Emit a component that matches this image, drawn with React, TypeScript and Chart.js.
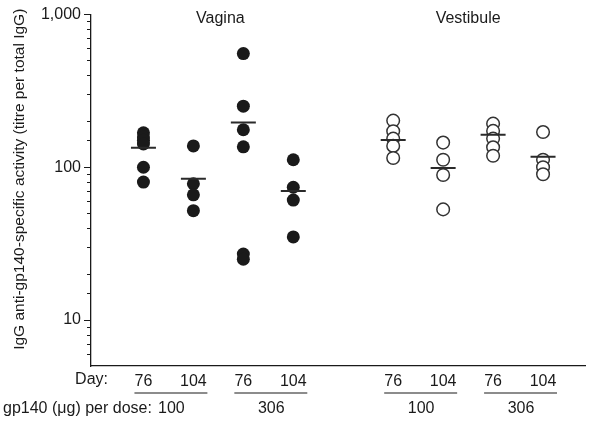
import React, { useEffect, useRef } from 'react';
import { Chart, registerables } from 'chart.js';

Chart.register(...registerables);

// ---- data ----
const dayLabels = ['76', '104', '76', '104', '76', '104', '76', '104'];
const columnSlots = [0, 1, 2, 3, 5, 6, 7, 8];
const doseLabels = ['100', '306', '100', '306'];
const siteLabels = ['Vagina', 'Vestibule'];
const yTickLabels: Record<number, string> = { 10: '10', 100: '100', 1000: '1,000' };

const vagina76d100 = [168, 158, 150, 142, 100, 80];
const vagina104d100 = [138, 78, 66, 52];
const vagina76d306 = [555, 251, 176, 136, 27, 25];
const vagina104d306 = [112, 74, 61, 35];
const vestibule76d100 = [202, 172, 154, 138, 115];
const vestibule104d100 = [145, 112, 89, 53];
const vestibule76d306 = [193, 173, 154, 135, 119];
const vestibule104d306 = [170, 112, 100, 90];

const columnMeans = [134, 84, 196, 70, 151, 99, 163, 117];

const vaginaColumns = [vagina76d100, vagina104d100, vagina76d306, vagina104d306];
const vestibuleColumns = [vestibule76d100, vestibule104d100, vestibule76d306, vestibule104d306];

const FONT = '"Liberation Sans", Arial, sans-serif';
const INK = '#1a1a1a';

const toPoints = (cols: number[][], slots: number[]) =>
  cols.flatMap((vals, i) => vals.map((v) => ({ x: slots[i], y: v })));

const isMajor = (v: number) => yTickLabels[v] !== undefined;

const annotations = {
  id: 'annotations',
  afterDraw(chart: any) {
    const { ctx, scales } = chart;
    const xs = scales.x;
    const ys = scales.y;
    const area = chart.chartArea;
    ctx.save();
    ctx.fillStyle = INK;
    ctx.strokeStyle = INK;

    // minor ticks on the log axis (shorter than the major ones)
    ctx.lineWidth = 1;
    ys.ticks.forEach((t: any) => {
      if (isMajor(t.value) || t.value <= ys.min) return;
      const py = Math.round(ys.getPixelForValue(t.value)) + 0.5;
      ctx.beginPath();
      ctx.moveTo(area.left - 4, py);
      ctx.lineTo(area.left, py);
      ctx.stroke();
    });

    ctx.font = `16px ${FONT}`;
    ctx.textBaseline = 'middle';

    // site titles
    ctx.textAlign = 'center';
    ctx.fillText(siteLabels[0], xs.getPixelForValue((columnSlots[0] + columnSlots[3]) / 2) + 2, 19);
    ctx.fillText(siteLabels[1], xs.getPixelForValue((columnSlots[4] + columnSlots[7]) / 2), 19);

    // Day: label
    const dayY = area.bottom + 14;
    ctx.textAlign = 'right';
    ctx.fillText('Day:', 108, dayY);

    // underlines and dose labels
    const lineY = area.bottom + 27;
    const doseY = area.bottom + 43;
    ctx.lineWidth = 1.2;
    for (let p = 0; p < 4; p++) {
      const a = xs.getPixelForValue(columnSlots[p * 2]);
      const b = xs.getPixelForValue(columnSlots[p * 2 + 1]);
      ctx.beginPath();
      ctx.moveTo(a - 9, lineY);
      ctx.lineTo(b + 14, lineY);
      ctx.stroke();
      ctx.textAlign = 'center';
      ctx.fillText(doseLabels[p], (a + b) / 2 + 3, doseY);
    }
    ctx.textAlign = 'left';
    ctx.fillText('gp140 (\u03bcg) per dose:', 3, doseY);

    // y-axis title
    ctx.translate(20, (area.top + area.bottom) / 2 - 11);
    ctx.rotate(-Math.PI / 2);
    ctx.textAlign = 'center';
    ctx.font = `15.5px ${FONT}`;
    ctx.fillText('IgG anti-gp140-specific activity (titre per total IgG)', 0, 0);
    ctx.restore();
  },
};

export default function App() {
  const canvasRef = useRef<HTMLCanvasElement | null>(null);

  useEffect(() => {
    if (!canvasRef.current) return;
    const chart = new Chart(canvasRef.current, {
      type: 'scatter',
      data: {
        datasets: [
          {
            label: 'Mean',
            data: columnMeans.map((m, i) => ({ x: columnSlots[i], y: m })),
            pointStyle: 'line',
            pointRadius: 12.5,
            borderColor: '#2a2a2a',
            backgroundColor: '#2a2a2a',
            borderWidth: 2,
          },
          {
            label: 'Vagina',
            data: toPoints(vaginaColumns, columnSlots.slice(0, 4)),
            pointStyle: 'circle',
            pointRadius: 6.5,
            backgroundColor: INK,
            borderColor: INK,
            borderWidth: 0,
          },
          {
            label: 'Vestibule',
            data: toPoints(vestibuleColumns, columnSlots.slice(4)),
            pointStyle: 'circle',
            pointRadius: 6.3,
            backgroundColor: '#ffffff',
            borderColor: '#333333',
            borderWidth: 1.5,
          },
        ],
      },
      options: {
        animation: false,
        responsive: false,
        events: [],
        layout: { padding: { top: 14, right: 9, left: 0, bottom: 0 } },
        plugins: { legend: { display: false }, tooltip: { enabled: false } },
        scales: {
          x: {
            type: 'linear',
            min: -1.05,
            max: 8.85,
            afterBuildTicks: (scale: any) => {
              scale.ticks = columnSlots.map((v) => ({ value: v }));
            },
            afterFit: (scale: any) => {
              scale.height = 59;
            },
            grid: { display: false, drawTicks: false },
            border: { display: true, color: INK, width: 1.3 },
            ticks: {
              autoSkip: false,
              maxRotation: 0,
              padding: 6,
              color: INK,
              font: { family: FONT, size: 16 },
              callback: (v: any) => {
                const i = columnSlots.indexOf(Number(v));
                return i >= 0 ? dayLabels[i] : '';
              },
            },
          },
          y: {
            type: 'logarithmic',
            min: 5,
            max: 1000,
            afterFit: (scale: any) => {
              scale.width = 91;
            },
            grid: {
              drawOnChartArea: false,
              drawTicks: true,
              tickLength: 7,
              color: INK,
              tickColor: (c: any) => (c.tick && isMajor(c.tick.value) ? INK : 'rgba(0,0,0,0)'),
              lineWidth: 1,
            },
            border: { display: true, color: INK, width: 1.3 },
            ticks: {
              autoSkip: false,
              padding: 3,
              color: INK,
              font: { family: FONT, size: 16 },
              callback: (v: any) => yTickLabels[Number(v)] ?? '',
            },
          },
        },
      },
      plugins: [annotations],
    } as any);
    return () => chart.destroy();
  }, []);

  return (
    <div style={{ position: 'absolute', left: 0, top: 0, width: 600, height: 425, background: '#fff' }}>
      <canvas ref={canvasRef} width={600} height={425} />
    </div>
  );
}
